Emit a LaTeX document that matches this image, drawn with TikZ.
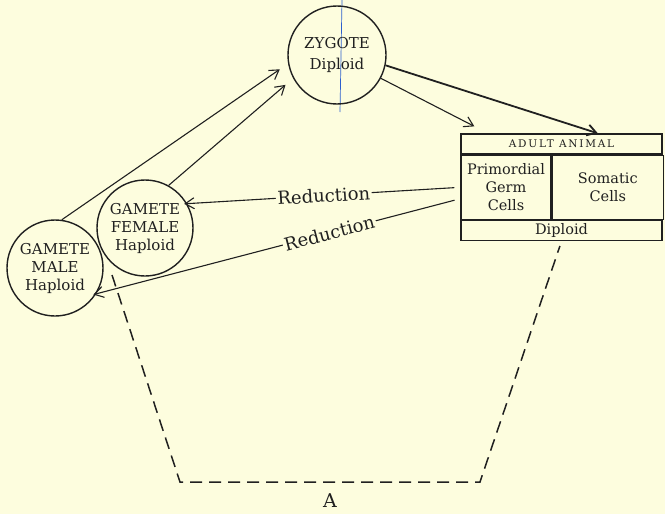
\documentclass[tikz,border=0pt]{standalone}
\usepackage{fontspec}
\setmainfont{DejaVu Serif}
\usepackage{tikz}
\usetikzlibrary{arrows.meta,positioning,calc}
\definecolor{paper}{RGB}{253,253,222}
\definecolor{ink}{RGB}{32,32,32}
\definecolor{penblue}{RGB}{45,95,205}

\begin{document}
\begin{tikzpicture}[x=1pt,y=-1pt,
  cell/.style={circle,draw=ink,line width=1.4pt,minimum size=96pt,inner sep=0pt,
    align=center,text=ink,font=\fontsize{15}{18}\selectfont},
  part/.style={draw=ink,line width=1.3pt,inner sep=0pt,align=center,text=ink,
    font=\fontsize{14.5}{18}\selectfont},
  link/.style={draw=ink,line width=1.1pt,-{Straight Barb[length=9pt,width=11pt]}},
  redlabel/.style={fill=paper,inner sep=1.5pt,text=ink,font=\fontsize{18}{18}\selectfont},
  germline/.style={draw=ink,line width=1.5pt,dash pattern=on 12pt off 7pt}]
  % --- paper: 665 x 514, pixel units, y downwards ---
  \fill[paper] (0,0) rectangle (665,514);
  \useasboundingbox (0,0) rectangle (665,514);
  % --- pen mark through the zygote ---
  \draw[penblue,line width=0.7pt] (342,0) -- (340,112);
  % --- cells ---
  \node[cell,minimum size=98pt] (zygote) at (337,55) {ZYGOTE\\[3pt]Diploid};
  \node[cell] (female) at (145,228) {GAMETE\\FEMALE\\Haploid};
  \node[cell] (male) at (55,268) {GAMETE\\MALE\\Haploid};
  % --- adult animal box ---
  \node[part,minimum width=201pt,minimum height=20pt,
        font=\fontsize{10.5}{10.5}\selectfont\addfontfeature{LetterSpace=17}]
        (adult) at (561.5,144) {ADULT ANIMAL};
  \node[part,minimum width=90pt,minimum height=64pt,anchor=north west]
        (germ) at (adult.south west) {Primordial\\Germ\\Cells};
  \node[part,minimum width=111pt,minimum height=64pt,anchor=north west]
        (soma) at (germ.north east) {Somatic\\Cells};
  \node[part,minimum width=201pt,minimum height=20pt,anchor=north west]
        (dip) at (germ.south west) {Diploid};
  % --- fertilisation ---
  \draw[link,shorten >=10pt] (male.82) -- (zygote.190);
  \draw[link,shorten >=10pt] (female.61) -- (zygote.208);
  % --- growth ---
  \draw[link,line width=1.8pt] (zygote.-12) -- ($(adult.north west)!0.68!(adult.north east)$);
  \draw[link] (zygote.-28) -- ($(adult.north west)+(14,-7)$);
  % --- reduction ---
  \draw[link,shorten <=6pt,shorten >=-3pt] (germ.west)
        -- node[redlabel,sloped,pos=0.5] (red1) {Reduction} (female.30);
  \draw[link,shorten <=6pt,shorten >=-3pt] (germ.194)
        -- node[redlabel,sloped,pos=0.36] (red2) {Reduction} (male.-32);
  % --- germ line (dashed) ---
  \coordinate (d0) at (112,275);
  \coordinate (bl) at (180,482);
  \coordinate (br) at (480,482);
  \draw[germline,shorten >=5pt] (d0) -- (bl)
        -- node[below=11pt,inner sep=0pt,text=ink,font=\fontsize{19}{19}\selectfont] (labA) {A} (br)
        -- (dip.south);
\end{tikzpicture}
\end{document}
